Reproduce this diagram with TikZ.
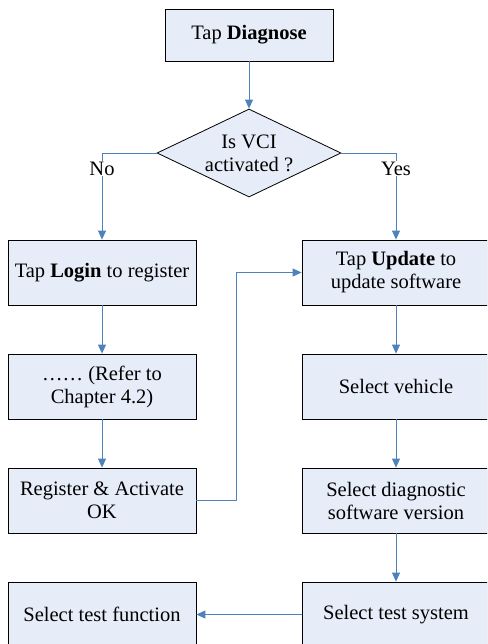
\documentclass[tikz,border=0pt]{standalone}
\usepackage{fontspec}
\setmainfont{Liberation Serif}
\usepackage{tikz}
\usetikzlibrary{arrows.meta}
\usetikzlibrary{shapes.geometric}
\usetikzlibrary{shadows}
\usetikzlibrary{calc}

\definecolor{boxfill}{HTML}{E6EDF8}
\definecolor{linkblue}{HTML}{4F81BD}

\begin{document}
\begin{tikzpicture}[x=1pt,y=-1pt,inner sep=1pt,>={Triangle[length=9pt,width=8pt]},
  font=\fontsize{20.5}{23}\selectfont,
  stepbox/.style={draw,fill=boxfill,line width=.8pt,align=center,
    minimum width=188pt,minimum height=65pt,
    drop shadow={shadow xshift=1.2pt,shadow yshift=-1.2pt,fill=black!45,opacity=1}},
  query/.style={draw,fill=boxfill,line width=.8pt,diamond,inner sep=0pt,
    minimum width=184pt,minimum height=88pt},
  link/.style={->,draw=linkblue,line width=.9pt},
  tag/.style={fill=white,inner sep=1pt}]
\clip (0,0) rectangle (487,644);
% top of the chart
\draw node [stepbox,minimum width=168pt,minimum height=52pt] (Diag) at (249,35) {Tap \textbf{Diagnose}};
\draw node [query] (VCI) at (249,153) {};
\draw node [align=center] (VCItext) at (VCI.center) {Is VCI\\activated ?};
% left column
\draw node [stepbox] (Login)  at (102,272.5) {Tap \textbf{Login} to register};
\draw node [stepbox] (Refer)  at (102,386.5) {\dots\dots\ (Refer to\\Chapter 4.2)};
\draw node [stepbox] (RegOK)  at (102,500.5) {Register \& Activate\\OK};
\draw node [stepbox] (TestFn) at (102,614.5) {Select test function};
% right column
\draw node [stepbox] (Update)  at (396,272.5) {Tap \textbf{Update} to\\update software};
\draw node [stepbox] (Vehicle) at (396,386.5) {Select vehicle};
\draw node [stepbox] (SwVer)   at (396,500.5) {Select diagnostic\\software version};
\draw node [stepbox] (TestSys) at (396,614.5) {Select test system};
% connectors
\draw [link] (Diag.south) -- (VCI.north);
\draw [link] (VCI.west) -| node [tag,pos=.59] {No} (Login.north);
\draw [link] (VCI.east) -| node [tag,pos=.59] {Yes} (Update.north);
\draw [link] (Login.south) -- (Refer.north);
\draw [link] (Refer.south) -- (RegOK.north);
\draw [link] (RegOK.east) -- ($ (RegOK.east) + (40,0) $) |- (Update.west);
\draw [link] (Update.south) -- (Vehicle.north);
\draw [link] (Vehicle.south) -- (SwVer.north);
\draw [link] (SwVer.south) -- (TestSys.north);
\draw [link] (TestSys.west) -- (TestFn.east);
\end{tikzpicture}
\end{document}
